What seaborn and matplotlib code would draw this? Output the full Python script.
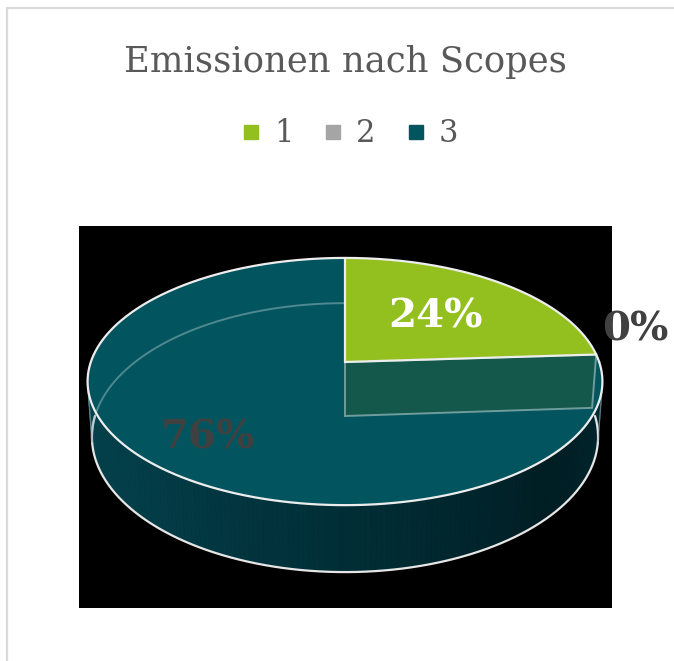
import numpy as np
import matplotlib
matplotlib.use("Agg")
import matplotlib.pyplot as plt
from matplotlib.lines import Line2D
from matplotlib.patches import Rectangle
import seaborn as sns

# ---- data ----
title = "Emissionen nach Scopes"
scopes = ["1", "2", "3"]
shares = [24, 0, 76]          # percent
label_texts = ["24%", "0%", "76%"]
colors = ["#93C01F", "#A5A5A5", "#02555F"]

sns.set_theme(style="white")
plt.rcParams["font.family"] = ["DejaVu Serif"]
palette = sns.color_palette(colors)

W, H, DPI = 674, 661, 100
fig = plt.figure(figsize=(W / DPI, H / DPI), dpi=DPI)
fig.patch.set_facecolor("white")

# light border of the chart area
fig.add_artist(Rectangle((7 / W, -0.01), 1.0, 1 - 8 / H + 0.01, transform=fig.transFigure,
                         fill=False, edgecolor="#D9D9D9", linewidth=1.6))

# plot area (black)
ax = fig.add_axes([79 / W, 1 - 608 / H, (612 - 79) / W, (608 - 226) / H])
ax.set_facecolor("black")
for sp in ax.spines.values():
    sp.set_visible(False)
ax.set_xticks([]); ax.set_yticks([])
apex_px = (345, 362)
ax.set_xlim(79 - apex_px[0], 612 - apex_px[0])
ax.set_ylim(apex_px[1] - 608, apex_px[1] - 226)

# ---- 3D projection (perspective-like) ----
elev = np.deg2rad(27.9)
s_, c_ = np.sin(elev), np.cos(elev)
Dist = 6.33 * c_
Dz = 4.57
fx, fy = 1422.0, 1441.0
kz = 54.0 * Dz   # vertical size of the pie thickness (Z = -1 is the bottom)

def proj(X, Y, Z):
    X = np.asarray(X, float); Y = np.asarray(Y, float); Z = np.asarray(Z, float)
    u = fx * X / (Dist + Y * c_ - Z * 0.2 * s_)
    v = fy * s_ * Y / (Dist + Y * c_) + kz * Z / (Dz + Y * c_)
    return u, v

def arc(a0, a1, z, r=1.0, n=200):
    t = np.deg2rad(np.linspace(a0, a1, n))
    return proj(r * np.cos(t), r * np.sin(t), np.full_like(t, z))

fr = np.array(shares, float) / sum(shares)
starts = 90 - 360 * np.concatenate([[0], np.cumsum(fr)[:-1]])
ends = starts - 360 * fr
BOT = -1.0

# 1. front outer wall (gradient)
nseg = 180
thetas = np.linspace(180, 360, nseg + 1)
wall_cmap = matplotlib.colors.LinearSegmentedColormap.from_list(
    "wall", ["#05454F", "#033D48", "#012E36", "#001E24", "#012A32"])
for i in range(nseg):
    a, b = thetas[i], thetas[i + 1]
    ut, vt = arc(a, b, 0, n=3)
    ub, vb = arc(b, a, BOT, n=3)
    col = wall_cmap(i / nseg)
    ax.fill(np.concatenate([ut, ub]), np.concatenate([vt, vb]), color=col, lw=0.6, ec=col, zorder=1)

ub, vb = arc(180, 360, BOT)
ax.plot(ub, vb, color="#E6E6E6", lw=1.6, zorder=2)
for ang in (191.0, 349.0):
    u1, v1 = arc(ang, ang, 0, n=1)
    u2, v2 = arc(ang, ang, BOT, n=1)
    ax.plot([u1[0], u2[0]], [v1[0], v2[0]], color="#9AA9AD", lw=1.0, alpha=0.6, zorder=2)

# 2. top faces
tops = []
for i in range(len(shares)):
    if fr[i] <= 0:
        continue
    ua, va = arc(starts[i], ends[i], 0, n=400)
    tops.append((i, np.concatenate([[0], ua, [0]]), np.concatenate([[0], va, [0]])))

for i, uu, vv in tops:
    if i == 2:
        ax.fill(uu, vv, color=palette[i], lw=0, zorder=3)

# faint back-bottom rim seen through the translucent top
ua, va = arc(starts[0], 191, BOT)
ax.plot(ua, va, color="#8FB3B8", lw=1.4, alpha=0.55, zorder=4)

# radial wall of slice 1 visible through the top
e_ang = np.deg2rad(ends[0])
rw_u, rw_v = proj([0, np.cos(e_ang), np.cos(e_ang), 0],
                  [0, np.sin(e_ang), np.sin(e_ang), 0],
                  [0, 0, BOT, BOT])
ax.fill(rw_u, rw_v, facecolor="#14574B", edgecolor="#6F9C9C", lw=1.4, zorder=5)

for i, uu, vv in tops:
    if i == 0:
        ax.fill(uu, vv, color=palette[i], lw=0, zorder=6)

ut, vt = arc(0, 360, 0, n=600)
ax.plot(ut, vt, color="#EDEDED", lw=1.6, zorder=7)
for ang in (starts[0], ends[0]):
    a = np.deg2rad(ang)
    uu, vv = proj([0, np.cos(a)], [0, np.sin(a)], [0, 0])
    ax.plot(uu, vv, color="#EDEDED", lw=1.6, zorder=7)

# ---- data labels ----
def mid_point(i, r):
    a = np.deg2rad((starts[i] + ends[i]) / 2)
    uu, vv = proj([r * np.cos(a)], [r * np.sin(a)], [0])
    return uu[0], vv[0]

lx, ly = mid_point(0, 0.55)
ax.text(lx, ly, label_texts[0], color="white", fontsize=29, fontweight="bold",
        ha="center", va="center", zorder=9)
lx, ly = mid_point(2, 0.72)
ax.text(lx, ly - 7, label_texts[2], color="#404040", fontsize=29, fontweight="bold",
        ha="center", va="center", zorder=9)
lx, ly = mid_point(1, 1.0)
ax.annotate(label_texts[1], (lx, ly), xytext=(28, 18), textcoords="offset points",
            color="#404040", fontsize=29, fontweight="bold", ha="center", va="center",
            annotation_clip=False, zorder=9)

# ---- title & legend ----
fig.text(345.5 / W, 1 - 72 / H, title, color="#595959", fontsize=25.5,
         ha="center", va="baseline")
handles = [Line2D([], [], marker="s", linestyle="", markersize=10.5,
                  markerfacecolor=palette[i], markeredgecolor=palette[i]) for i in range(3)]
fig.legend(handles, scopes, loc="center", bbox_to_anchor=(350 / W, 1 - 134 / H), ncol=3,
           frameon=False, fontsize=22, handlelength=0.6, handletextpad=0.45,
           columnspacing=1.0, labelcolor="#595959")

fig.savefig("out.png", dpi=DPI, facecolor="white")
